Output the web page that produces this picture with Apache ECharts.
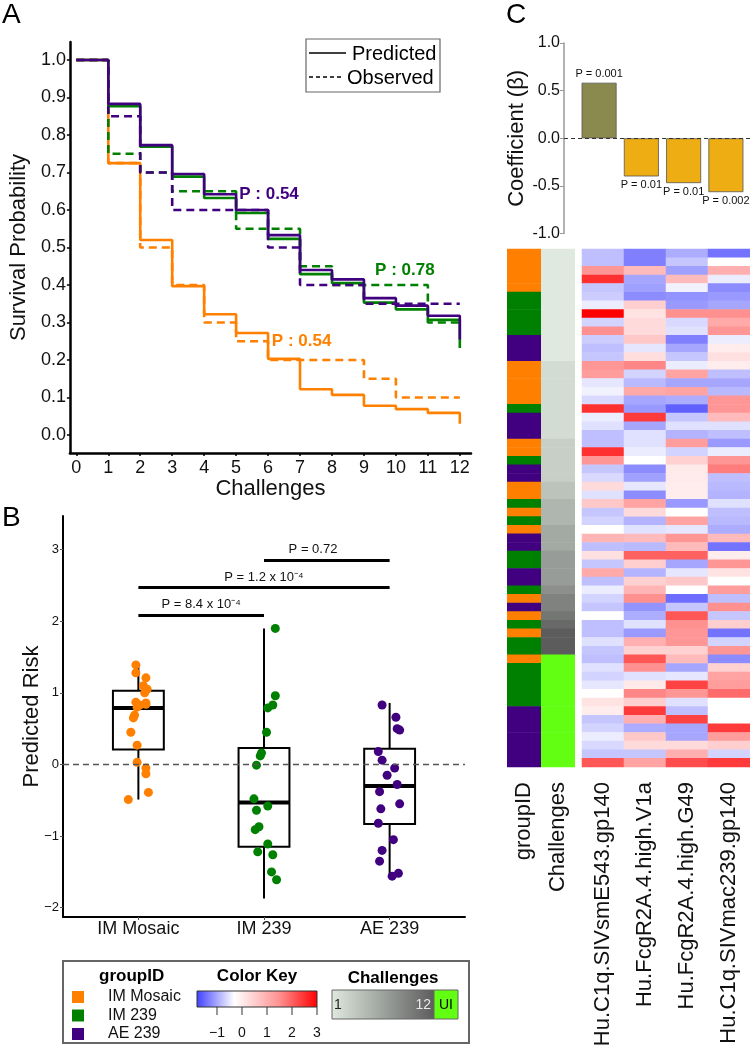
<!DOCTYPE html>
<html>
<head>
<meta charset="utf-8">
<title>Survival, predicted risk and coefficients</title>
<script src="https://cdn.jsdelivr.net/npm/echarts@6.0.0/dist/echarts.min.js"></script>
<style>
html,body{margin:0;padding:0;background:#ffffff;}
#chart{width:750px;height:1050px;}
</style>
</head>
<body>
<div id="chart"></div>
<script>
// ===================== DATA =====================
// Panel A – survival probability per challenge
const challengeNumbers = [0,1,2,3,4,5,6,7,8,9,10,11,12];
const survivalTicks = [0.0,0.1,0.2,0.3,0.4,0.5,0.6,0.7,0.8,0.9,1.0];
const mosaicPredicted = [1, 0.725, 0.52, 0.397, 0.322, 0.272, 0.203, 0.122, 0.107, 0.078, 0.069, 0.059, 0.03];
const mosaicObserved  = [1, 0.725, 0.5, 0.4, 0.3, 0.25, 0.2, 0.2, 0.2, 0.15, 0.1, 0.1, 0.1];
const im239Predicted  = [1, 0.877, 0.769, 0.689, 0.632, 0.592, 0.523, 0.429, 0.405, 0.353, 0.335, 0.307, 0.232];
const im239Observed   = [1, 0.75, 0.7, 0.65, 0.65, 0.55, 0.55, 0.45, 0.4, 0.4, 0.4, 0.3, 0.3];
const ae239Predicted  = [1, 0.883, 0.773, 0.696, 0.642, 0.6, 0.533, 0.44, 0.415, 0.365, 0.345, 0.318, 0.255];
const ae239Observed   = [1, 0.85, 0.7, 0.6, 0.6, 0.6, 0.5, 0.4, 0.4, 0.35, 0.35, 0.35, 0.35];
const survivalP = ['P : 0.54', 'P : 0.78', 'P : 0.54']; // IM Mosaic, IM 239, AE 239

// Panel B – predicted risk
const groupNames = ['IM Mosaic', 'IM 239', 'AE 239'];
const riskTicks = [-2, -1, 0, 1, 2, 3];
const mosaicRisk   = [1.39,1.28,1.21,1.10,1.05,1.00,0.87,0.86,0.84,0.83,0.80,0.69,0.65,0.45,0.27,0.03,-0.05,-0.13,-0.39,-0.49];
const mosaicJitter = [-0.02,-0.02,0.06,0.04,0.07,0.05,-0.02,0.06,0.06,0.01,-0.01,-0.03,-0.04,-0.06,-0.01,-0.01,0.06,0.06,0.08,-0.08];
const im239Risk    = [1.90,0.96,0.83,0.79,0.45,0.16,0.12,-0.01,-0.48,-0.58,-0.64,-0.87,-0.91,-1.11,-1.22,-1.26,-1.50,-1.61];
const im239Jitter  = [0.09,0.09,0.07,0.03,0.02,-0.02,-0.03,-0.06,-0.08,0.03,-0.06,-0.04,-0.07,0.03,-0.05,0.07,0.06,0.10];
const ae239Risk    = [0.83,0.66,0.50,0.48,0.18,0.06,-0.05,-0.15,-0.28,-0.38,-0.55,-0.62,-0.82,-1.05,-1.20,-1.35,-1.52,-1.56];
const ae239Jitter  = [-0.06,0.05,0.06,0.08,-0.09,-0.06,0.04,-0.02,0.06,-0.08,0.08,-0.07,-0.09,0.03,-0.06,-0.08,0.07,0.02];
// min, Q1, median, Q3, max
const mosaicBox = [-0.49, 0.21, 0.79, 1.03, 1.39];
const im239Box  = [-1.87, -1.15, -0.53, 0.23, 1.90];
const ae239Box  = [-1.56, -0.83, -0.30, 0.22, 0.86];
const comparisonPairs = [[1, 2], [1, 3], [2, 3]];
const comparisonP = ['P = 8.4 x 10\u207B\u2074', 'P = 1.2 x 10\u207B\u2074', 'P = 0.72'];

// Panel C – coefficients and heatmap
const featureNames = ['Hu.C1q.SIVsmE543.gp140', 'Hu.FcgR2A.4.high.V1a', 'Hu.FcgR2A.4.high.G49', 'Hu.C1q.SIVmac239.gp140'];
const coefficients = [0.583, -0.40, -0.47, -0.565];
const coefficientP = ['P = 0.001', 'P = 0.01', 'P = 0.01', 'P = 0.002'];
// group index per animal (0 = IM Mosaic, 1 = IM 239, 2 = AE 239)
const animalGroup = [0,0,0,0,0, 1,1,1,1,1, 2,2,2, 0,0,0,0,0, 1, 2,2,2, 0,0, 1, 2,2, 0,0, 1, 0, 1, 0, 2,2, 1,1, 2,2, 1, 0, 2, 0, 1, 0, 1,1, 0, 1,1,1,1,1, 2,2,2,2,2,2,2];
// challenge of infection per animal (13 = UI, uninfected)
const animalChallenges = [1,1,1,1,1,1,1,1,1,1,1,1,1, 2,2,2,2,2,2,2,2,2, 3,3,3,3,3, 4,4, 5,5,5, 6,6,6, 7,7,7,7, 8, 9,9, 10, 11, 12,12,12, 13,13,13,13,13,13,13,13,13,13,13,13,13];
const heatC1qSmE543 = [-0.8,-0.8,1.4,2.5,-0.75,-0.7,-0.45,3.0,-0.65,1.5, -0.7,-0.8,-0.75,1.4,1.3,-0.5,-0.4,-0.6,2.5,-0.45, -0.55,-0.8,-0.8,2.5,1.4,-0.75,-0.6,0.3,-0.55,0.6, -0.75,-0.65,-0.3,0.9,-0.8,0.2,-0.75,1.1,-0.8,-0.45, -0.65,-0.75,-0.3,-0.8,-0.8,-0.55,-0.75,-0.8,-0.55,-0.65, -0.5,-0.3,0.15,0.0,-0.75,-0.65,-0.45,-0.6,-0.75,2.1];
const heatFcgV1a    = [-1.3,-1.3,0.8,-1.0,-1.05,-1.2,0.5,0.15,0.3,0.3, 0.6,-0.5,0.25,1.6,-0.65,-0.85,1.1,-1.0,-1.1,2.4, -1.0,-0.55,-0.55,-0.45,-0.3,-1.2,-1.05,-0.5,-1.2,1.2, 0.3,-0.9,-0.55,0.8,-0.85,2.0,0.5,-0.9,0.45,0.9, 1.5,-1.15,-0.95,-0.55,-1.1,1.0,0.45,2.1,1.5,-0.55, 0.05,1.6,0.5,2.4,1.0,-0.95,0.6,0.3,-0.75,1.2];
const heatFcgG49    = [-0.95,-0.75,-1.05,0.8,-0.4,-1.15,-1.1,1.5,-0.6,-0.55, -1.3,-1.0,-0.75,-0.45,1.2,-1.0,1.2,-0.95,-1.55,-0.75, -0.55,-0.9,1.3,-0.65,0.45,0.05,0.05,0.0,0.0,-1.1, -0.3,1.2,-0.5,1.4,0.8,2.0,-1.0,-0.5,0.6,-0.3, -1.45,-0.75,2.1,1.5,1.4,1.4,0.45,0.8,-1.0,-0.5, 2.3,1.4,-0.55,-0.8,2.3,-1.0,-1.0,0.3,1.0,2.2];
const heatC1qMac239 = [-1.4,-0.3,1.0,-0.45,-1.2,-1.1,-1.0,1.5,1.1,1.4, -0.45,0.0,0.2,0.0,-0.8,-1.0,-0.85,1.4,1.4,0.8, -0.55,-0.8,-1.1,-0.45,1.4,1.7,-0.8,-0.85,-0.9,-0.55, -0.8,-0.85,-0.95,0.8,-1.4,0.0,1.4,0.15,-0.3,1.3, -0.8,1.5,-0.75,0.5,-1.4,-0.65,1.4,-1.2,0.45,1.2, 1.3,1.9,-0.3,-0.3,-0.3,2.4,1.3,0.5,-0.65,2.4];
const colorKeyTicks = [-1, 0, 1, 2, 3];
const challengeKeyLabels = ['1', '12', 'UI'];

// ===================== STYLE =====================
const FONT = '"Liberation Sans", Arial, Helvetica, sans-serif';
const groupColors = ['#ff8000', '#008000', '#400080'];
const heatMin = -1.8, heatMax = 3;
const heatStops = [[-1.8, [64, 64, 255]], [-0.3, [255, 255, 255]], [1.5, [255, 144, 144]], [3, [255, 0, 0]]];
function mix(a, b, t) { return a.map((v, i) => Math.round(v + (b[i] - v) * t)); }
function rgb(c) { return 'rgb(' + c.join(',') + ')'; }
function heatColor(v) {
  if (v <= heatStops[0][0]) return rgb(heatStops[0][1]);
  for (let i = 1; i < heatStops.length; i++) {
    if (v <= heatStops[i][0]) {
      const t = (v - heatStops[i - 1][0]) / (heatStops[i][0] - heatStops[i - 1][0]);
      return rgb(mix(heatStops[i - 1][1], heatStops[i][1], t));
    }
  }
  return rgb(heatStops[heatStops.length - 1][1]);
}
const heatPalette = [];
for (let i = 0; i <= 48; i++) heatPalette.push(heatColor(heatMin + (heatMax - heatMin) * i / 48));
const challengeLight = [223, 233, 223], challengeDark = [92, 92, 92], uiGreen = '#62ff12';
function challengeColor(c) {
  if (c >= 13) return uiGreen;
  return rgb(mix(challengeLight, challengeDark, (c - 1) / 11));
}

// ===================== BUILD =====================
const chart = echarts.init(document.getElementById('chart'), null, { renderer: 'canvas', width: 750, height: 1050 });
const txt = (o) => Object.assign({ fontFamily: FONT, color: '#111' }, o);
const blackAxis = { show: true, onZero: false, lineStyle: { color: '#000', width: 2.5 } };
const pairs = (arr) => challengeNumbers.map((c, i) => [c, arr[i]]);

function stepSeries(name, arr, color, dashed, pIdx, pCoord) {
  const s = {
    type: 'line', name, xAxisIndex: 0, yAxisIndex: 0, step: 'end', symbol: 'none', showSymbol: false,
    data: pairs(arr), silent: true,
    lineStyle: { color, width: 2.6, type: dashed ? [8, 5] : 'solid' }
  };
  if (pIdx != null) {
    s.markPoint = {
      symbol: 'circle', symbolSize: 0, silent: true,
      data: [{ coord: pCoord }],
      label: { show: true, position: 'inside', formatter: survivalP[pIdx], color, fontWeight: 'bold', fontSize: 17, fontFamily: FONT }
    };
  }
  return s;
}

const riskSets = [[mosaicRisk, mosaicJitter], [im239Risk, im239Jitter], [ae239Risk, ae239Jitter]];
const boxData = [mosaicBox, im239Box, ae239Box].map((b, i) => [i + 1].concat(b));

function boxRender(params, api) {
  const x = api.value(0);
  const pMin = api.coord([x, api.value(1)]);
  const pQ1 = api.coord([x, api.value(2)]);
  const pMed = api.coord([x, api.value(3)]);
  const pQ3 = api.coord([x, api.value(4)]);
  const pMax = api.coord([x, api.value(5)]);
  const half = api.size([0.405, 0])[0] / 2;
  const st = { stroke: '#000', lineWidth: 2, fill: null };
  return {
    type: 'group', children: [
      { type: 'line', shape: { x1: pMin[0], y1: pMin[1], x2: pQ1[0], y2: pQ1[1] }, style: st },
      { type: 'line', shape: { x1: pQ3[0], y1: pQ3[1], x2: pMax[0], y2: pMax[1] }, style: st },
      { type: 'rect', shape: { x: pQ3[0] - half, y: pQ3[1], width: half * 2, height: pQ1[1] - pQ3[1] }, style: { stroke: '#000', lineWidth: 2, fill: 'rgba(255,255,255,0)' } },
      { type: 'line', shape: { x1: pMed[0] - half, y1: pMed[1], x2: pMed[0] + half, y2: pMed[1] }, style: { stroke: '#000', lineWidth: 4 } }
    ]
  };
}

const heatCols = [heatC1qSmE543, heatFcgV1a, heatFcgG49, heatC1qMac239];
const rowIds = animalGroup.map((g, i) => 'r' + (i + 1));
const heatData = [];
heatCols.forEach((col, c) => col.forEach((v, r) => heatData.push([c, r, v])));
const annotData = animalGroup.map((g, r) => [0, r, g]).concat(animalChallenges.map((ch, r) => [1, r, ch]));

function annotRender(params, api) {
  const col = api.value(0), row = api.value(1), code = api.value(2);
  const c = api.coord([col, row]);
  const s = api.size([1, 1]);
  const fill = col === 0 ? groupColors[code] : challengeColor(code);
  return { type: 'rect', shape: { x: c[0] - s[0] / 2, y: c[1] - s[1] / 2 - 0.3, width: s[0], height: s[1] + 0.6 }, style: { fill } };
}

const series = [
  stepSeries('IM Mosaic observed', mosaicObserved, groupColors[0], true),
  stepSeries('IM Mosaic predicted', mosaicPredicted, groupColors[0], false, 0, [7.05, 0.25]),
  stepSeries('IM 239 observed', im239Observed, groupColors[1], true),
  stepSeries('IM 239 predicted', im239Predicted, groupColors[1], false, 1, [10.28, 0.44]),
  stepSeries('AE 239 observed', ae239Observed, groupColors[2], true),
  stepSeries('AE 239 predicted', ae239Predicted, groupColors[2], false, 2, [6.03, 0.643]),
  {
    type: 'custom', name: 'boxes', xAxisIndex: 1, yAxisIndex: 1, renderItem: boxRender, data: boxData,
    encode: { x: 0, y: [1, 2, 3, 4, 5] }, silent: true, z: 2,
    markLine: {
      silent: true, symbol: 'none', data: [{ yAxis: 0 }], label: { show: false },
      lineStyle: { color: '#555', width: 1.3, type: [6, 4] }
    }
  }
];
riskSets.forEach((set, g) => {
  series.push({
    type: 'scatter', name: groupNames[g], xAxisIndex: 1, yAxisIndex: 1, symbolSize: 9, silent: true, z: 4,
    itemStyle: { color: groupColors[g], opacity: 1 },
    data: set[0].map((v, i) => [g + 1 + set[1][i], v])
  });
});
const bracketY = [2.09, 2.47, 2.85];
const bracketLabelX = [1.5, 2.0, 2.39];
series.push({
  type: 'line', name: 'comparisons', xAxisIndex: 1, yAxisIndex: 1, data: [], silent: true,
  markLine: {
    silent: true, symbol: 'none', label: { show: false },
    lineStyle: { color: '#000', width: 3, type: 'solid' },
    data: comparisonPairs.map((p, i) => [{ coord: [p[0], bracketY[i]] }, { coord: [p[1], bracketY[i]] }])
  },
  markPoint: {
    silent: true, symbol: 'circle', symbolSize: 0,
    data: comparisonP.map((t, i) => ({ coord: [bracketLabelX[i], bracketY[i]], label: { formatter: t } })),
    label: { show: true, position: 'top', distance: 4, fontSize: 13, color: '#111', fontFamily: FONT }
  }
});
series.push({
  type: 'bar', name: 'coefficients', xAxisIndex: 2, yAxisIndex: 2, barWidth: 35, silent: true,
  data: coefficients.map((v, i) => ({
    value: [i + 1, v],
    itemStyle: { color: v > 0 ? '#8b8a4e' : '#eead12', borderColor: '#555', borderWidth: 0.8 },
    label: { show: true, position: v > 0 ? 'top' : 'bottom', distance: 3, formatter: coefficientP[i], fontSize: 11, color: '#111', fontFamily: FONT }
  })),
  markLine: {
    silent: true, symbol: 'none', data: [{ yAxis: 0 }], label: { show: false },
    lineStyle: { color: '#333', width: 1, type: [4, 3] }
  }
});
series.push({
  type: 'custom', name: 'annotations', xAxisIndex: 3, yAxisIndex: 3, renderItem: annotRender,
  data: annotData, encode: { x: 0, y: 1 }, silent: true
});
const heatIndex = series.length;
series.push({
  type: 'heatmap', name: 'heat', xAxisIndex: 4, yAxisIndex: 4, data: heatData, silent: true,
  itemStyle: { borderWidth: 0 }, emphasis: { disabled: true }, progressive: 0
});

// legend / key graphics
const keyX0 = 197, keyW = 120;
const keyPos = (v) => keyX0 + (v - heatMin) / (heatMax - heatMin) * keyW;
const keyGradient = heatStops.map(s => ({ offset: (s[0] - heatMin) / (heatMax - heatMin), color: rgb(s[1]) }));
const graphic = [
  { type: 'text', left: 2, top: 1, style: { text: 'A', font: '28px ' + FONT, fill: '#000' } },
  { type: 'text', left: 2, top: 504, style: { text: 'B', font: '28px ' + FONT, fill: '#000' } },
  { type: 'text', left: 506, top: 1, style: { text: 'C', font: '28px ' + FONT, fill: '#000' } },
  // panel A legend
  { type: 'rect', shape: { x: 306, y: 39, width: 134, height: 53 }, style: { fill: '#fff', stroke: '#666', lineWidth: 1.2 }, z: 10 },
  { type: 'line', shape: { x1: 309, y1: 53, x2: 346, y2: 53 }, style: { stroke: '#000', lineWidth: 1.5 }, z: 11 },
  { type: 'line', shape: { x1: 309, y1: 77, x2: 344, y2: 77 }, style: { stroke: '#000', lineWidth: 1.5, lineDash: [4, 3] }, z: 11 },
  { type: 'text', x: 352, y: 54, style: { text: 'Predicted', font: '20px ' + FONT, fill: '#000', textVerticalAlign: 'middle' }, z: 11 },
  { type: 'text', x: 347, y: 78, style: { text: 'Observed', font: '20px ' + FONT, fill: '#000', textVerticalAlign: 'middle' }, z: 11 },
  // bottom legend box
  { type: 'rect', shape: { x: 63, y: 961, width: 406, height: 82 }, style: { fill: 'none', stroke: '#666', lineWidth: 2 } },
  { type: 'text', x: 99, y: 976, style: { text: 'groupID', font: 'bold 17px ' + FONT, fill: '#000', textVerticalAlign: 'middle' } },
  { type: 'text', x: 257, y: 976, style: { text: 'Color Key', font: 'bold 17px ' + FONT, fill: '#000', textAlign: 'center', textVerticalAlign: 'middle' } },
  { type: 'text', x: 393, y: 978, style: { text: 'Challenges', font: 'bold 17px ' + FONT, fill: '#000', textAlign: 'center', textVerticalAlign: 'middle' } },
  { type: 'rect', shape: { x: keyX0, y: 991, width: keyW, height: 16 }, style: { fill: new echarts.graphic.LinearGradient(0, 0, 1, 0, keyGradient), stroke: '#333', lineWidth: 1 } },
  { type: 'rect', shape: { x: 332, y: 990, width: 102, height: 29 }, style: { fill: new echarts.graphic.LinearGradient(0, 0, 1, 0, [{ offset: 0, color: rgb(challengeLight) }, { offset: 1, color: rgb(challengeDark) }]), stroke: '#666', lineWidth: 1 } },
  { type: 'rect', shape: { x: 434, y: 990, width: 24, height: 29 }, style: { fill: uiGreen, stroke: '#666', lineWidth: 1 } },
  { type: 'text', x: 334, y: 1005, style: { text: challengeKeyLabels[0], font: '14px ' + FONT, fill: '#222', textVerticalAlign: 'middle' } },
  { type: 'text', x: 431, y: 1005, style: { text: challengeKeyLabels[1], font: '14px ' + FONT, fill: '#e8e8e8', textAlign: 'right', textVerticalAlign: 'middle' } },
  { type: 'text', x: 446, y: 1005, style: { text: challengeKeyLabels[2], font: '14px ' + FONT, fill: '#000', textAlign: 'center', textVerticalAlign: 'middle' } }
];
groupNames.forEach((g, i) => {
  const y = 997 + i * 18.5;
  graphic.push({ type: 'rect', shape: { x: 72, y: y - 6, width: 12, height: 12 }, style: { fill: groupColors[i] } });
  graphic.push({ type: 'text', x: 108, y: y, style: { text: g, font: '16px ' + FONT, fill: '#111', textVerticalAlign: 'middle' } });
});
colorKeyTicks.forEach(v => {
  const x = keyPos(v);
  graphic.push({ type: 'line', shape: { x1: x, y1: 1007, x2: x, y2: 1015 }, style: { stroke: '#333', lineWidth: 1 } });
  graphic.push({ type: 'text', x: x, y: 1033, style: { text: v < 0 ? '\u2212' + Math.abs(v) : String(v), font: '14px ' + FONT, fill: '#111', textAlign: 'center', textVerticalAlign: 'middle' } });
});

const option = {
  animation: false,
  backgroundColor: '#ffffff',
  grid: [
    { left: 63, top: 42, width: 408, height: 411 },
    { left: 63, top: 516, width: 402, height: 401 },
    { left: 564, top: 43, width: 186, height: 190.6 },
    { left: 507, top: 249, width: 68, height: 518 },
    { left: 582, top: 249, width: 168, height: 518 }
  ],
  xAxis: [
    {
      type: 'value', gridIndex: 0, min: -0.2, max: 12.35, splitLine: { show: false }, axisLine: blackAxis,
      axisTick: { show: true, customValues: challengeNumbers, length: 3, lineStyle: { color: '#000', width: 1.5 } },
      axisLabel: txt({ customValues: challengeNumbers, fontSize: 18, margin: 6 }),
      name: 'Challenges', nameLocation: 'middle', nameGap: 23, nameTextStyle: txt({ fontSize: 22 })
    },
    {
      type: 'value', gridIndex: 1, min: 0.4, max: 3.6, splitLine: { show: false },
      axisLine: { show: true, onZero: false, lineStyle: { color: '#000', width: 2 } },
      axisTick: { show: true, customValues: [1, 2, 3], length: 3, lineStyle: { color: '#555', width: 1 } },
      axisLabel: txt({ customValues: [1, 2, 3], formatter: (v) => groupNames[Math.round(v) - 1], fontSize: 18, margin: 3 })
    },
    { type: 'value', gridIndex: 2, min: 0.17, max: 4.57, show: false, splitLine: { show: false } },
    {
      type: 'category', gridIndex: 3, data: ['groupID', 'Challenges'], axisLine: { show: false }, axisTick: { show: false },
      axisLabel: txt({ rotate: 90, fontSize: 22, margin: 15, interval: 0 })
    },
    {
      type: 'category', gridIndex: 4, data: featureNames, axisLine: { show: false }, axisTick: { show: false },
      axisLabel: txt({ rotate: 90, fontSize: 22, margin: 15, interval: 0 })
    }
  ],
  yAxis: [
    {
      type: 'value', gridIndex: 0, min: -0.048, max: 1.048, splitLine: { show: false }, axisLine: blackAxis,
      axisTick: { show: true, customValues: survivalTicks, length: 3, lineStyle: { color: '#000', width: 1.5 } },
      axisLabel: txt({ customValues: survivalTicks, formatter: (v) => v.toFixed(1), fontSize: 18, margin: 4 }),
      name: 'Survival Probability', nameLocation: 'middle', nameGap: 35, nameTextStyle: txt({ fontSize: 22 })
    },
    {
      type: 'value', gridIndex: 1, min: -2.13, max: 3.47, splitLine: { show: false },
      axisLine: { show: true, onZero: false, lineStyle: { color: '#000', width: 2 } },
      axisTick: { show: true, customValues: riskTicks, length: 3, lineStyle: { color: '#555', width: 1 } },
      axisLabel: txt({ customValues: riskTicks, formatter: (v) => (v < 0 ? '\u2212' + Math.abs(v) : String(v)), fontSize: 13, margin: 4 }),
      name: 'Predicted Risk', nameLocation: 'middle', nameGap: 20, nameMoveOverlap: false, nameTextStyle: txt({ fontSize: 22 })
    },
    {
      type: 'value', gridIndex: 2, min: -1, max: 1, interval: 0.5, splitLine: { show: false },
      axisLine: { show: true, onZero: false, lineStyle: { color: '#999', width: 1.5 } },
      axisTick: { show: true, length: 4, lineStyle: { color: '#999', width: 1 } },
      axisLabel: txt({ formatter: (v) => v.toFixed(1), fontSize: 16, margin: 4 }),
      name: 'Coefficient (\u03B2)', nameLocation: 'middle', nameGap: 36, nameTextStyle: txt({ fontSize: 22 })
    },
    { type: 'category', gridIndex: 3, data: rowIds, inverse: true, show: false },
    { type: 'category', gridIndex: 4, data: rowIds, inverse: true, show: false }
  ],
  visualMap: [{
    type: 'continuous', show: false, seriesIndex: heatIndex, dimension: 2, min: heatMin, max: heatMax,
    inRange: { color: heatPalette }
  }],
  series,
  graphic
};
chart.setOption(option);
</script>
</body>
</html>
